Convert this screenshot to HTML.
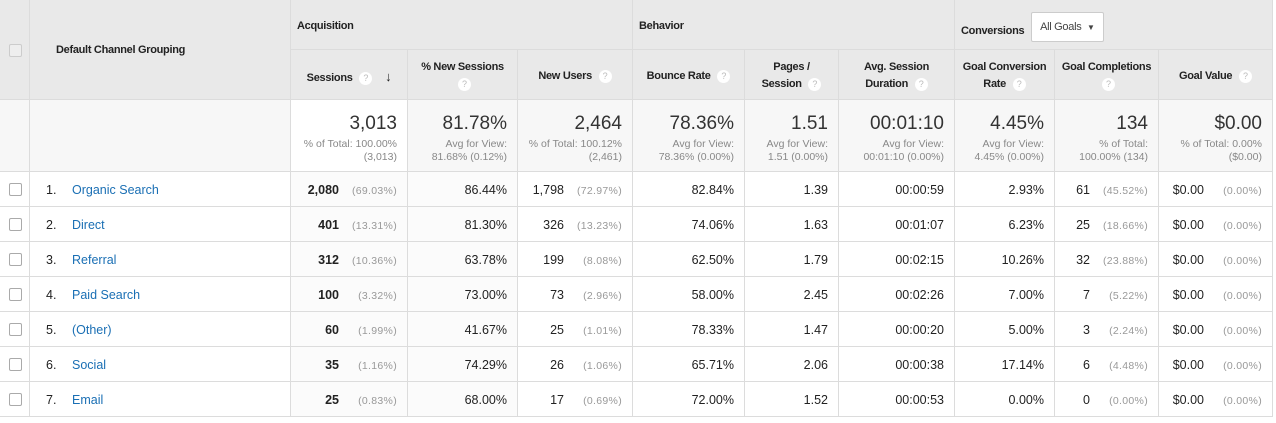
<!DOCTYPE html>
<html><head><meta charset="utf-8">
<style>
body{margin:0;width:1276px;height:423px;background:#fff;font-family:"Liberation Sans",Arial,sans-serif;overflow:hidden;position:relative}
.c{position:absolute;box-sizing:border-box;border-right:1px solid #dcdcdc;border-bottom:1px solid #dcdcdc}
.h{background:#e9e9e9;font-weight:bold;font-size:11px;color:#222;letter-spacing:-0.3px}
.q{display:inline-block;width:13px;height:13px;border-radius:50%;background:#fff;color:#bbb;font-size:9px;font-weight:normal;text-align:center;line-height:13px;vertical-align:middle;margin-left:4px;letter-spacing:0}
.t{background:#f7f7f7;text-align:right;padding-right:10px;color:#333}
.big{font-size:19px;margin-top:13px}
.sm{font-size:10.5px;color:#888;line-height:13px;margin-top:3px}
.d{font-size:12.5px;color:#222;text-align:right;padding-right:10px;line-height:34px}
.p{color:#999;font-size:10.5px;margin-left:8px;display:inline-block;width:50px;text-align:right;letter-spacing:0.3px}
.cb{position:absolute;left:9px;width:11px;height:11px;border:1px solid #aaa;border-radius:2px;background:#fff}
a{color:#1a6fb4;text-decoration:none}
</style></head><body>
<div id="root"></div>
<script>
const channels=["Organic Search","Direct","Referral","Paid Search","(Other)","Social","Email"];
const sessions=["2,080","401","312","100","60","35","25"];
const sessPct=["(69.03%)","(13.31%)","(10.36%)","(3.32%)","(1.99%)","(1.16%)","(0.83%)"];
const newSess=["86.44%","81.30%","63.78%","73.00%","41.67%","74.29%","68.00%"];
const newUsers=["1,798","326","199","73","25","26","17"];
const newUsersPct=["(72.97%)","(13.23%)","(8.08%)","(2.96%)","(1.01%)","(1.06%)","(0.69%)"];
const bounce=["82.84%","74.06%","62.50%","58.00%","78.33%","65.71%","72.00%"];
const pages=["1.39","1.63","1.79","2.45","1.47","2.06","1.52"];
const dur=["00:00:59","00:01:07","00:02:15","00:02:26","00:00:20","00:00:38","00:00:53"];
const conv=["2.93%","6.23%","10.26%","7.00%","5.00%","17.14%","0.00%"];
const compl=["61","25","32","7","3","6","0"];
const complPct=["(45.52%)","(18.66%)","(23.88%)","(5.22%)","(2.24%)","(4.48%)","(0.00%)"];
const cols=[0,30,291,408,518,633,745,839,955,1055,1159,1273];
const R=document.getElementById('root');
function cell(x1,x2,y1,y2,cls,html,name){const d=document.createElement('div');d.className='c '+cls;d.style.left=x1+'px';d.style.top=y1+'px';d.style.width=(x2-x1)+'px';d.style.height=(y2-y1)+'px';d.innerHTML=html;


R.appendChild(d);return d;}
cell(0,30,0,100,'h','<div class="cb" style="top:44px;background:#eee;border-color:#ccc"></div>','select-all-header');
cell(30,291,0,100,'h','<div style="padding:44px 0 0 26px">Default Channel Grouping</div>','channel-grouping-header');
cell(291,633,0,50,'h','<div style="padding:20px 0 0 6px">Acquisition</div>','acquisition-group');
cell(633,955,0,50,'h','<div style="padding:20px 0 0 6px">Behavior</div>','behavior-group');
cell(955,1273,0,50,'h','<div style="padding:20px 0 0 6px">Conversions <span style="display:inline-block;margin-left:4px;margin-top:-8px;vertical-align:middle;border:1px solid #ccc;border-radius:2px;background:#fff;font-weight:normal;color:#444;padding:8px 8px;font-size:11px">All Goals &nbsp;<span style="font-size:8px">▼</span></span></div>','conversions-group');
const heads=[["Sessions <span class='q'>?</span> <span style='margin-left:10px;font-size:13px'>↓</span>",1],["% New Sessions<br><span class='q'>?</span>",0],["New Users <span class='q'>?</span>",1],["Bounce Rate <span class='q'>?</span>",1],["Pages /<br>Session <span class='q'>?</span>",0],["Avg. Session<br>Duration <span class='q'>?</span>",0],["Goal Conversion<br>Rate <span class='q'>?</span>",0],["Goal Completions<br><span class='q'>?</span>",0],["Goal Value <span class='q'>?</span>",1]];
heads.forEach((hd,i)=>{cell(cols[i+2],cols[i+3],50,100,'h','<div style="text-align:center;line-height:17px;padding-top:'+(hd[1]?18:9)+'px">'+hd[0]+'</div>','metric-header-'+i);});
cell(0,30,100,172,'t','','totals-check');cell(30,291,100,172,'t','','totals-label');
const tot=[["3,013","% of Total: 100.00%<br>(3,013)"],["81.78%","Avg for View:<br>81.68% (0.12%)"],["2,464","% of Total: 100.12%<br>(2,461)"],["78.36%","Avg for View:<br>78.36% (0.00%)"],["1.51","Avg for View:<br>1.51 (0.00%)"],["00:01:10","Avg for View:<br>00:01:10 (0.00%)"],["4.45%","Avg for View:<br>4.45% (0.00%)"],["134","% of Total:<br>100.00% (134)"],["$0.00","% of Total: 0.00%<br>($0.00)"]];
tot.forEach((t,i)=>{const c=cell(cols[i+2],cols[i+3],100,172,'t','<div class="big">'+t[0]+'</div><div class="sm">'+t[1]+'</div>','total-'+i);if(i==0)c.style.background='#fff';});
channels.forEach((ch,r)=>{const y=172+r*35,y2=y+35;
cell(0,30,y,y2,'','<div class="cb" style="top:11px"></div>','row-checkbox');
cell(30,291,y,y2,'d','<div style="text-align:left;padding-left:16px;padding-top:1px"><span style="display:inline-block;width:26px">'+(r+1)+'.</span><a href="#">'+ch+'</a></div>','channel-name');
const vals=['<b>'+sessions[r]+'</b><span class="p">'+sessPct[r]+'</span>',newSess[r],newUsers[r]+'<span class="p">'+newUsersPct[r]+'</span>',bounce[r],pages[r],dur[r],conv[r],compl[r]+'<span class="p">'+complPct[r]+'</span>','$0.00<span class="p">(0.00%)</span>'];
vals.forEach((v,i)=>{const c=cell(cols[i+2],cols[i+3],y,y2,'d','<div style="padding-top:1px">'+v+'</div>','cell-'+i);if(i==0||i==1)c.style.background='#fbfbfb';});
});
</script>
</body></html>
